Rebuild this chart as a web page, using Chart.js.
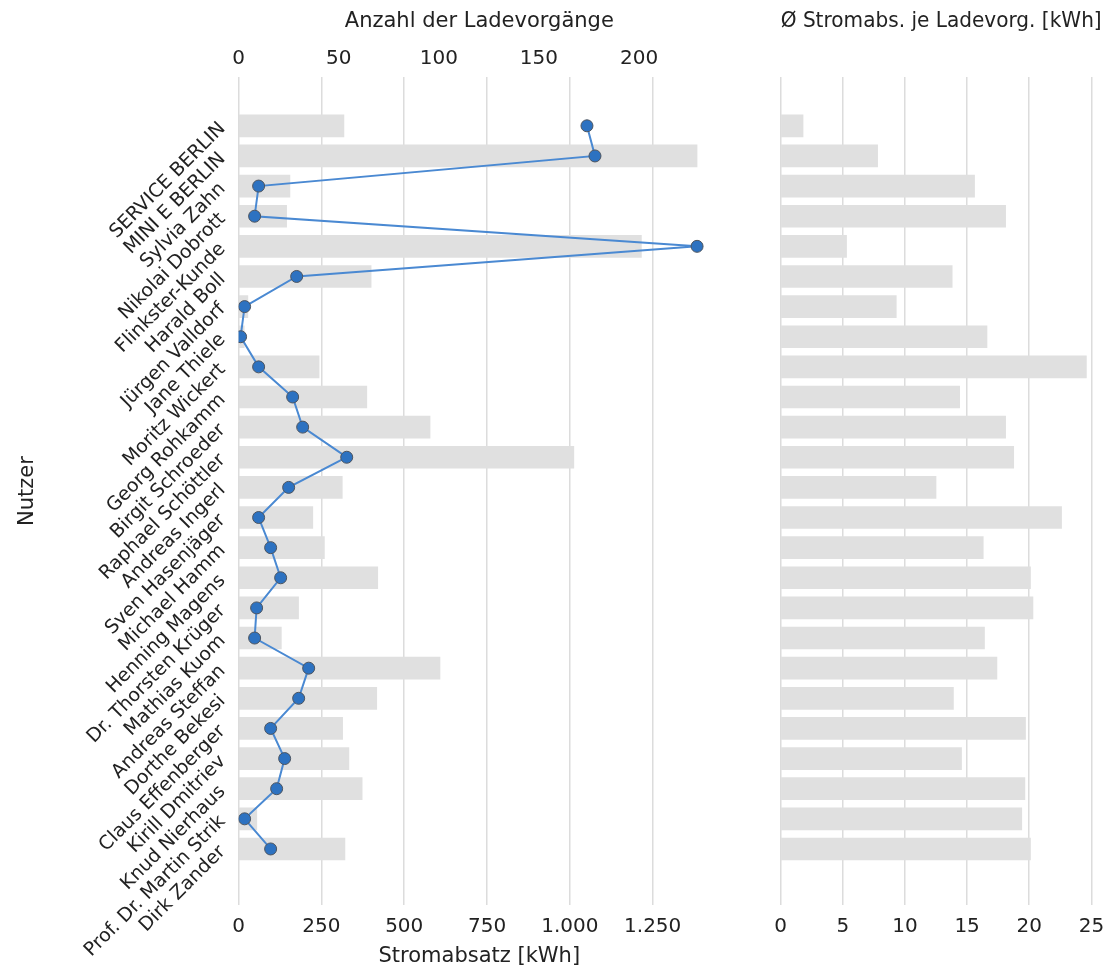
<!DOCTYPE html>
<html lang="de">
<head>
    <meta charset="utf-8">
    <script src="https://cdn.jsdelivr.net/npm/chart.js@4.4.1/dist/chart.umd.min.js"></script>
    <style>
        body { margin: 0; background: #fff; }
        #wrap { position: relative; width: 1117px; height: 967px; }
        canvas { position: absolute; top: 0; }
        #chartLeft { left: 0; }
        #chartRight { left: 740px; }
    </style>
</head>
<body>
<div id="wrap">
    <canvas id="chartLeft" width="740" height="967"></canvas>
    <canvas id="chartRight" width="377" height="967"></canvas>
</div>

<script type="text/javascript">
    // Nutzer (von oben nach unten)
    var nutzer = ["SERVICE BERLIN", "MINI E BERLIN", "Sylvia Zahn", "Nikolai Dobrott", "Flinkster-Kunde",
        "Harald Boll", "Jürgen Valldorf", "Jane Thiele", "Moritz Wickert", "Georg Rohkamm",
        "Birgit Schroeder", "Raphael Schöttler", "Andreas Ingerl", "Sven Hasenjäger", "Michael Hamm",
        "Henning Magens", "Dr. Thorsten Krüger", "Mathias Kuom", "Andreas Steffan", "Dorthe Bekesi",
        "Claus Effenberger", "Kirill Dmitriev", "Knud Nierhaus", "Prof. Dr. Martin Strik", "Dirk Zander"];

    // Anzahl der Ladevorgänge
    var ladevorgaenge = [174, 178, 10, 8, 229, 29, 3, 1, 10, 27, 32, 54, 25, 10, 16, 21, 9, 8, 35, 30, 16, 23, 19, 3, 16];

    // Stromabsatz [kWh]
    var stromabsatz = [318, 1384, 155, 145, 1216, 400, 28, 17, 243, 387, 578, 1012, 313, 224, 259, 420, 181, 129, 608,
        417, 314, 333, 373, 55, 321];

    // Ø Stromabsatz je Ladevorgang [kWh]
    var proLadevorgang = [1.8, 7.8, 15.6, 18.1, 5.3, 13.8, 9.3, 16.6, 24.6, 14.4, 18.1, 18.75, 12.5, 22.6, 16.3, 20.1,
        20.3, 16.4, 17.4, 13.9, 19.7, 14.55, 19.65, 19.4, 20.1];

    // Achsenbeschriftungen
    var ticksStromabsatz = [0, 250, 500, 750, 1000, 1250];
    var ticksLadevorgaenge = [0, 50, 100, 150, 200];
    var ticksProLadevorgang = [0, 5, 10, 15, 20, 25];

    var textColor = "#222";
    var gridColor = "#dcdcdc";
    var barColor = "#e0e0e0";

    Chart.defaults.font.family = "'DejaVu Sans', sans-serif";
    Chart.defaults.color = textColor;

    function tausender(v) {
        return String(v).replace(/\B(?=(\d{3})+(?!\d))/g, ".");
    }

    function punkte(arr) {
        var out = [];
        for (var i = 0; i < arr.length; i++) {
            out.push({x: arr[i], y: i});
        }
        return out;
    }

    function festeTicks(werte) {
        return function (scale) {
            scale.ticks = werte.map(function (v) { return {value: v}; });
        };
    }

    // gemeinsame y-Achse: Nutzer als Index, oben beginnend
    function yAchse(sichtbar) {
        return {
            type: "linear",
            reverse: true,
            offset: false,
            min: -1.62,
            max: 25.86,
            display: sichtbar,
            grid: {display: false, drawTicks: false, offset: false},
            border: {display: false},
            afterBuildTicks: festeTicks(nutzer.map(function (n, i) { return i; })),
            afterFit: function (scale) {
                if (sichtbar) scale.width = 238.6;
            },
            ticks: {
                autoSkip: false,
                minRotation: 45,
                maxRotation: 45,
                padding: 16,
                font: {size: 19},
                callback: function (v) { return nutzer[v]; }
            },
            title: {
                display: sichtbar,
                text: "Nutzer",
                font: {size: 21, lineHeight: 1.0},
                padding: {top: 17, bottom: 0}
            }
        };
    }

    new Chart(document.getElementById("chartLeft"), {
        type: "bar",
        data: {
            datasets: [{
                type: "line",
                label: "Anzahl der Ladevorgänge",
                data: punkte(ladevorgaenge),
                xAxisID: "xTop",
                yAxisID: "y",
                indexAxis: "y",
                order: 0,
                borderColor: "#4a89d2",
                borderWidth: 2,
                pointRadius: 6,
                pointBorderWidth: 1,
                pointBackgroundColor: "#2d72c1",
                pointBorderColor: "#4d5560"
            }, {
                type: "bar",
                label: "Stromabsatz",
                data: punkte(stromabsatz),
                xAxisID: "x",
                yAxisID: "y",
                order: 1,
                backgroundColor: barColor,
                barThickness: 22
            }]
        },
        options: {
            responsive: false,
            animation: false,
            indexAxis: "y",
            layout: {padding: {left: 0, right: 20, top: 0, bottom: 0}},
            plugins: {legend: {display: false}, tooltip: {enabled: false}},
            scales: {
                y: yAchse(true),
                x: {
                    type: "linear",
                    position: "bottom",
                    min: 0,
                    max: Math.max.apply(null, stromabsatz) * 1.05,
                    grid: {color: gridColor, lineWidth: 1.5, drawTicks: false},
                    border: {display: false},
                    afterBuildTicks: festeTicks(ticksStromabsatz),
                    afterFit: function (scale) { scale.height = 62; },
                    ticks: {
                        autoSkip: false,
                        padding: 10,
                        maxRotation: 0,
                        font: {size: 20},
                        callback: function (v) { return tausender(v); }
                    },
                    title: {
                        display: true,
                        text: "Stromabsatz [kWh]",
                        font: {size: 21, lineHeight: 1.0},
                        padding: {top: 0, bottom: 0}
                    }
                },
                xTop: {
                    type: "linear",
                    position: "top",
                    min: 0,
                    max: Math.max.apply(null, ladevorgaenge) * 1.05,
                    grid: {display: false, drawTicks: false},
                    border: {display: false},
                    afterBuildTicks: festeTicks(ticksLadevorgaenge),
                    afterFit: function (scale) { scale.height = 77; },
                    ticks: {
                        autoSkip: false,
                        padding: 6,
                        maxRotation: 0,
                        font: {size: 20}
                    },
                    title: {
                        display: true,
                        text: "Anzahl der Ladevorgänge",
                        font: {size: 21, lineHeight: 1.0},
                        padding: {top: 11.5, bottom: 0}
                    }
                }
            }
        }
    });

    new Chart(document.getElementById("chartRight"), {
        type: "bar",
        data: {
            datasets: [{
                label: "Ø Stromabs. je Ladevorg.",
                data: punkte(proLadevorgang),
                xAxisID: "x",
                yAxisID: "y",
                backgroundColor: barColor,
                barThickness: 22
            }]
        },
        options: {
            responsive: false,
            animation: false,
            indexAxis: "y",
            layout: {padding: {left: 40.7, right: 15.3, top: 0, bottom: 0}},
            plugins: {legend: {display: false}, tooltip: {enabled: false}},
            scales: {
                y: yAchse(false),
                x: {
                    type: "linear",
                    position: "bottom",
                    min: 0,
                    max: Math.max.apply(null, proLadevorgang) * 1.05,
                    grid: {color: gridColor, lineWidth: 1.5, drawTicks: false},
                    border: {display: false},
                    afterBuildTicks: festeTicks(ticksProLadevorgang),
                    afterFit: function (scale) { scale.height = 62; },
                    ticks: {
                        autoSkip: false,
                        padding: 10,
                        maxRotation: 0,
                        font: {size: 20}
                    }
                },
                xTop: {
                    type: "linear",
                    position: "top",
                    display: true,
                    grid: {display: false, drawTicks: false},
                    border: {display: false},
                    afterFit: function (scale) { scale.height = 77; },
                    ticks: {display: false},
                    title: {
                        display: true,
                        text: "Ø Stromabs. je Ladevorg. [kWh]",
                        font: {size: 21, lineHeight: 1.0},
                        padding: {top: 11.5, bottom: 0}
                    }
                }
            }
        }
    });
</script>
</body>
</html>
